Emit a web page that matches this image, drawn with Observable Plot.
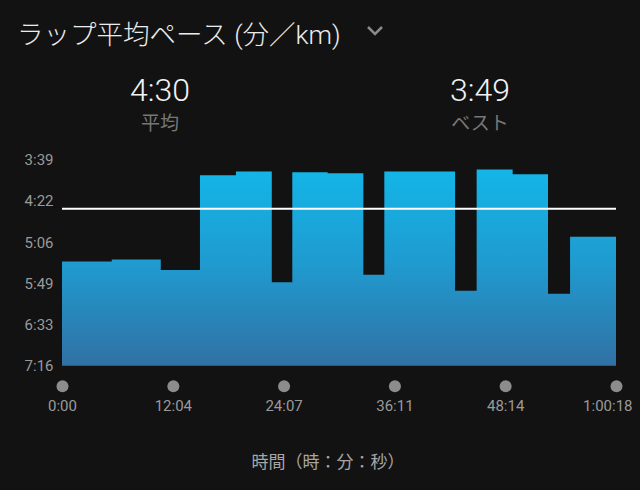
<!DOCTYPE html>
<html>
<head>
<meta charset="utf-8">
<script src="https://cdn.jsdelivr.net/npm/d3@7"></script>
<script src="https://cdn.jsdelivr.net/npm/@observablehq/plot@0.6"></script>
<style>
  html, body { margin: 0; padding: 0; background: #121212; }
  #wrap { position: relative; width: 640px; height: 490px; background: #121212; overflow: hidden;
          font-family: Roboto, "Noto Sans CJK JP", sans-serif; }
  #chart { position: absolute; left: 0; top: 140px; }
  #overlay { position: absolute; left: 0; top: 0; pointer-events: none; }
</style>
</head>
<body>
<div id="wrap">
  <div id="chart"></div>
  <svg id="overlay" width="640" height="490" font-family='Roboto, "Noto Sans CJK JP", sans-serif'>
    <text x="17" y="44" font-size="26.5" font-weight="300" fill="#ececec">ラップ平均ペース (分／km)</text>
    <polyline points="368,27 375,34 382,27" fill="none" stroke="#8a8a8a" stroke-width="2.5"/>
    <text id="avgVal" x="160" y="100.5" font-size="32" font-weight="300" fill="#f2f2f2" text-anchor="middle"></text>
    <text x="160" y="130" font-size="19" fill="#777" text-anchor="middle">平均</text>
    <text id="bestVal" x="480" y="100.5" font-size="32" font-weight="300" fill="#f2f2f2" text-anchor="middle"></text>
    <text x="480" y="130" font-size="19" fill="#777" text-anchor="middle">ベスト</text>
    <text x="328" y="467.5" font-size="17" fill="#a6a6a6" text-anchor="middle">時間（時：分：秒）</text>
  </svg>
</div>
<script>
// Lap start times (seconds) and lap average pace (seconds per km)
const lapStarts = [0, 325, 645, 901, 1136, 1370, 1504, 1735, 1968, 2105, 2336, 2567, 2708, 2943, 3174, 3318];
const lapPaces  = [326, 324, 335, 235, 231, 348, 232, 233, 340, 231, 231, 357, 229, 234, 360, 300];
const totalTime = 3618;

const avgPace = 270;   // 4:30
const bestPace = 229;  // 3:49

const yTicks = [219, 262, 306, 349, 393, 436];
const yTickLabels = ["3:39", "4:22", "5:06", "5:49", "6:33", "7:16"];
const xTicks = [0, 724, 1447, 2171, 2894, 3618];
const xTickLabels = ["0:00", "12:04", "24:07", "36:11", "48:14", "1:00:18"];

const fmt = s => `${Math.floor(s / 60)}:${String(s % 60).padStart(2, "0")}`;
document.getElementById("avgVal").textContent = fmt(avgPace);
document.getElementById("bestVal").textContent = fmt(bestPace);

// step points for the lap area
const pts = lapStarts.map((t, i) => ({t, pace: lapPaces[i]}));
pts.push({t: totalTime, pace: lapPaces[lapPaces.length - 1]});

const baseline = yTicks[yTicks.length - 1];
const H = 350, MT = 20, MB = 124.3;

const chart = Plot.plot({
  width: 640,
  height: H,
  marginTop: MT,
  marginBottom: MB,
  marginLeft: 62,
  marginRight: 24,
  style: {background: "transparent", fontFamily: 'Roboto, "Noto Sans CJK JP", sans-serif'},
  x: {domain: [0, totalTime]},
  y: {domain: [yTicks[0], baseline], reverse: true},
  marks: [
    Plot.areaY(pts, {x: "t", y1: () => baseline, y2: "pace", curve: "step-after", fill: "url(#paceGrad)"}),
    Plot.ruleY([avgPace], {stroke: "#ffffff", strokeWidth: 2}),
    Plot.axisY({ticks: yTicks, tickFormat: d => yTickLabels[yTicks.indexOf(d)], tickSize: 0, tickPadding: 9,
                fontSize: 15, fill: "#9a9a9a", label: null}),
    Plot.dot(xTicks, {x: d => d, frameAnchor: "bottom", dy: 20, r: 6, fill: "#8c8c8c"}),
    Plot.axisX(xTicks.slice(0, -1), {tickFormat: d => xTickLabels[xTicks.indexOf(d)], tickSize: 0, tickPadding: 34,
                fontSize: 15, fill: "#9a9a9a", label: null}),
    Plot.axisX(xTicks.slice(-1), {tickFormat: d => xTickLabels[xTicks.indexOf(d)], tickSize: 0, tickPadding: 34,
                fontSize: 15, fill: "#9a9a9a", label: null, textAnchor: "end", dx: 16})
  ]
});

// vertical gradient across the plot frame
const ns = "http://www.w3.org/2000/svg";
const defs = document.createElementNS(ns, "defs");
const grad = document.createElementNS(ns, "linearGradient");
grad.setAttribute("id", "paceGrad");
grad.setAttribute("gradientUnits", "userSpaceOnUse");
grad.setAttribute("x1", "0"); grad.setAttribute("x2", "0");
grad.setAttribute("y1", String(MT)); grad.setAttribute("y2", String(H - MB));
[["0", "#12b8ea"], ["0.5", "#1f9bd0"], ["1", "#3171a4"]].forEach(([o, c]) => {
  const s = document.createElementNS(ns, "stop");
  s.setAttribute("offset", o); s.setAttribute("stop-color", c);
  grad.appendChild(s);
});
defs.appendChild(grad);
chart.insertBefore(defs, chart.firstChild);

document.getElementById("chart").appendChild(chart);
</script>
</body>
</html>
